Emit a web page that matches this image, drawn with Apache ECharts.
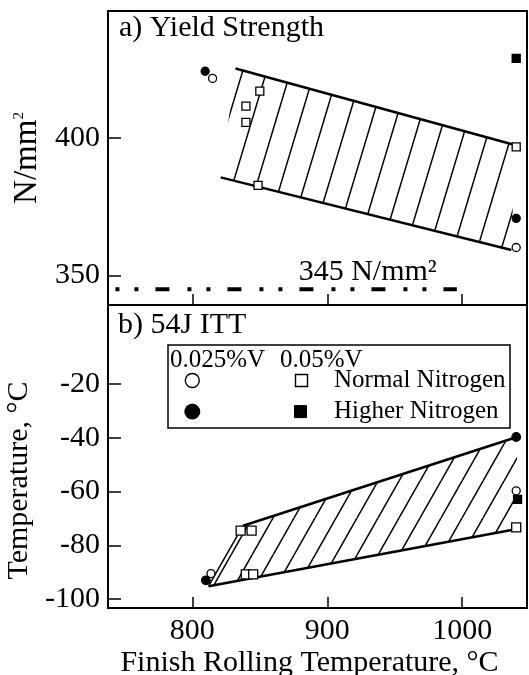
<!DOCTYPE html>
<html>
<head>
<meta charset="utf-8">
<script src="https://cdn.jsdelivr.net/npm/echarts@6/dist/echarts.min.js"></script>
<style>
  html, body { margin: 0; padding: 0; background: #fff; }
  #chart { width: 529px; height: 675px; }
</style>
</head>
<body>
<div id="chart"></div>
<script>
// ---- data -------------------------------------------------------------
const xTicks = [800, 900, 1000];
const yTicksYield = [350, 400];
const yTicksITT = [-100, -80, -60, -40, -20];

// a) Yield strength, N/mm2  [finish rolling temperature, value]
const yieldOpenCircle   = [[815, 421.7], [1040, 360.2]];
const yieldFilledCircle = [[809.5, 424.3], [1040, 370.8]];
const yieldOpenSquare   = [[850, 417.1], [839.7, 411.6], [839.7, 405.7], [848.7, 382.8], [1040, 396.8]];
const yieldFilledSquare = [[1040, 429.0]];
const yieldBand = [[832, 425.3], [1039, 397.5], [1036.4, 359.3], [821, 385.7]];
const minYield = 345;
const minYieldSpan = [743, 996];

// b) 54J impact transition temperature, degC
const ittOpenCircle   = [[813.8, -90.5], [1040, -59.7]];
const ittFilledCircle = [[810, -93.0], [1040, -39.7]];
const ittOpenSquare   = [[835.8, -74.5], [843.9, -74.5], [839.6, -90.8], [845.1, -90.8], [1040, -73.3]];
const ittFilledSquare = [[1041, -62.9]];
const ittBand = [[837.6, -72.7], [1040.6, -39.7], [1040.6, -73.9], [812, -95.2]];

// ---- styling helpers --------------------------------------------------
const SERIF = '"Liberation Serif", "Times New Roman", serif';
const FS = 30;

function hatchPattern(w, h, lw) {
  const c = document.createElement('canvas');
  c.width = w; c.height = h;
  const g = c.getContext('2d');
  g.strokeStyle = '#000';
  g.lineWidth = lw;
  for (const o of [-w, 0, w]) {
    g.beginPath();
    g.moveTo(o, h);
    g.lineTo(o + w, 0);
    g.stroke();
  }
  return c;
}
const hatchYield = hatchPattern(24, 80, 1.5);
const hatchITT = hatchPattern(21, 37, 1.5);

function bandSeries(band, grid, pattern) {
  return {
    type: 'custom', xAxisIndex: grid, yAxisIndex: grid, clip: true, z: 1,
    data: band,
    renderItem: (params, api) => {
      if (params.dataIndex !== 0) return null;
      return {
        type: 'polygon',
        shape: { points: band.map(p => api.coord(p)) },
        style: { fill: { image: pattern, repeat: 'repeat' }, stroke: null }
      };
    }
  };
}
function edge(a, b, grid, w) {
  return {
    type: 'line', xAxisIndex: grid, yAxisIndex: grid, data: [a, b], symbol: 'none', z: 2,
    lineStyle: { color: '#000', width: w }
  };
}
function marks(data, grid, shape, filled, size) {
  return {
    type: 'scatter', xAxisIndex: grid, yAxisIndex: grid, data, z: 5,
    symbol: shape, symbolSize: size,
    itemStyle: { color: filled ? '#000' : '#fff', borderColor: '#000', borderWidth: 1.3, opacity: 1 }
  };
}

function xAxisDef(grid, labels) {
  return {
    type: 'value', gridIndex: grid, min: 737.5, max: 1048, position: 'bottom',
    axisLine: { show: false, onZero: false },
    splitLine: { show: false },
    axisTick: { show: true, inside: true, length: 11, customValues: xTicks, lineStyle: { color: '#000', width: 1.5 } },
    axisLabel: { show: labels, customValues: xTicks, formatter: v => String(v), margin: 8, color: '#000', fontSize: FS, fontFamily: SERIF },
    name: labels ? 'Finish Rolling Temperature, \u00b0C' : '',
    nameLocation: 'middle', nameGap: 40,
    nameTextStyle: { color: '#000', fontSize: FS, fontFamily: SERIF, padding: [0, 16, 0, 0] }
  };
}
function yAxisDef(grid, min, max, ticks, name, gap, pad, nameStyle) {
  return {
    type: 'value', gridIndex: grid, min, max,
    axisLine: { show: false, onZero: false },
    splitLine: { show: false },
    axisTick: { show: true, inside: true, length: 13, customValues: ticks, lineStyle: { color: '#000', width: 1.5 } },
    axisLabel: { customValues: ticks, margin: 8, color: '#000', fontSize: FS, fontFamily: SERIF },
    name, nameLocation: 'middle', nameGap: gap,
    nameTextStyle: Object.assign({ color: '#000', fontSize: FS, fontFamily: SERIF, padding: pad }, nameStyle || {})
  };
}

// ---- chart ------------------------------------------------------------
const chart = echarts.init(document.getElementById('chart'));
chart.setOption({
  animation: false,
  backgroundColor: '#fff',
  grid: [
    { left: 108, top: 11, width: 419, height: 294, show: true, borderColor: '#000', borderWidth: 2, outerBoundsMode: 'none', containLabel: false },
    { left: 108, top: 305, width: 419, height: 303, show: true, borderColor: '#000', borderWidth: 2, outerBoundsMode: 'none', containLabel: false }
  ],
  xAxis: [xAxisDef(0, false), xAxisDef(1, true)],
  yAxis: [
    yAxisDef(0, 339.3, 446.2, yTicksYield, '{m|N/mm}{s|2}', 62, [0, 0, 0, 0], {
      rich: {
        m: { fontSize: 33, fontFamily: SERIF, color: '#000' },
        s: { fontSize: 15, fontFamily: SERIF, color: '#000', verticalAlign: 'top', padding: [0, 0, 14, 0] }
      }
    }),
    yAxisDef(1, -103.3, 9.4, yTicksITT, 'Temperature, \u00b0C', 66, [0, 48, 0, 0])
  ],
  series: [
    bandSeries(yieldBand, 0, hatchYield),
    edge(yieldBand[0], yieldBand[1], 0, 2.5),
    edge(yieldBand[3], yieldBand[2], 0, 2.5),
    {
      type: 'line', xAxisIndex: 0, yAxisIndex: 0, symbol: 'none', z: 3,
      data: minYieldSpan.map(x => [x, minYield]),
      lineStyle: { color: '#000', width: 4, type: [4, 15, 4, 17, 14, 18], cap: 'butt' },
      endLabel: {
        show: true, formatter: p => p.value[1] + ' N/mm\u00b2',
        align: 'right', verticalAlign: 'bottom', offset: [-28, -2],
        color: '#000', fontSize: FS, fontFamily: SERIF
      }
    },
    marks(yieldOpenCircle, 0, 'circle', false, 8),
    marks(yieldFilledCircle, 0, 'circle', true, 8),
    marks(yieldOpenSquare, 0, 'rect', false, 8),
    marks(yieldFilledSquare, 0, 'rect', true, 8),

    bandSeries(ittBand, 1, hatchITT),
    edge(ittBand[0], ittBand[1], 1, 2.5),
    edge(ittBand[3], ittBand[2], 1, 2.5),
    edge(ittBand[3], ittBand[0], 1, 1.5),
    marks(ittOpenCircle, 1, 'circle', false, 8),
    marks(ittFilledCircle, 1, 'circle', true, 8.5),
    marks(ittOpenSquare, 1, 'rect', false, 9),
    marks(ittFilledSquare, 1, 'rect', true, 8)
  ],
  graphic: [
    { type: 'text', x: 119, y: 13, style: { text: 'a) Yield Strength', font: FS + 'px ' + SERIF, fill: '#000' } },
    { type: 'text', x: 118, y: 310, style: { text: 'b) 54J ITT', font: FS + 'px ' + SERIF, fill: '#000' } },
    { type: 'rect', shape: { x: 168, y: 345, width: 342, height: 83 }, style: { fill: '#fff', stroke: '#000', lineWidth: 1.5 }, z: 10 },
    { type: 'text', x: 170, y: 360, z: 11, style: { text: '0.025%V', font: '25px ' + SERIF, fill: '#000', verticalAlign: 'middle' } },
    { type: 'text', x: 280, y: 360, z: 11, style: { text: '0.05%V', font: '25px ' + SERIF, fill: '#000', verticalAlign: 'middle' } },
    { type: 'circle', z: 11, shape: { cx: 192.3, cy: 380.5, r: 7 }, style: { fill: '#fff', stroke: '#000', lineWidth: 1.4 } },
    { type: 'rect', z: 11, shape: { x: 295.5, y: 374.5, width: 12, height: 12 }, style: { fill: '#fff', stroke: '#000', lineWidth: 1.4 } },
    { type: 'text', x: 334, y: 380.5, z: 11, style: { text: 'Normal Nitrogen', font: '25px ' + SERIF, fill: '#000', verticalAlign: 'middle' } },
    { type: 'circle', z: 11, shape: { cx: 192.3, cy: 411.6, r: 7.5 }, style: { fill: '#000', stroke: '#000', lineWidth: 1 } },
    { type: 'rect', z: 11, shape: { x: 294.5, y: 405.6, width: 12, height: 12 }, style: { fill: '#000', stroke: '#000', lineWidth: 1 } },
    { type: 'text', x: 334, y: 411.6, z: 11, style: { text: 'Higher Nitrogen', font: '25px ' + SERIF, fill: '#000', verticalAlign: 'middle' } }
  ]
});
</script>
</body>
</html>
